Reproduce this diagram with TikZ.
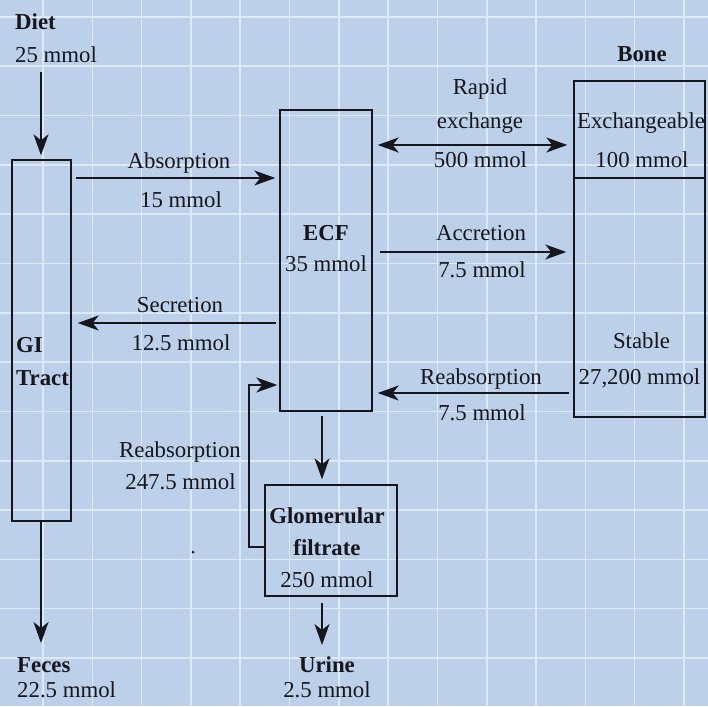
\documentclass[tikz,border=0pt]{standalone}
\usepackage{fontspec}
\setmainfont{Liberation Serif}
\usetikzlibrary{arrows.meta}
\definecolor{paper}{RGB}{188,208,233}
\definecolor{gridc}{RGB}{222,233,248}
\definecolor{ink}{RGB}{22,22,30}
\begin{document}
\begin{tikzpicture}[x=1pt,y=-1pt,
  font=\fontsize{22.8}{27}\selectfont,
  txt/.style={inner sep=0pt, anchor=base, text=ink},
  ltxt/.style={inner sep=0pt, anchor=base west, text=ink},
  box/.style={draw=ink, line width=1.4pt, inner sep=0pt},
  arr/.style={draw=ink, line width=1.4pt, -{Stealth[length=21pt 0,width=15pt 0,inset=6pt 0]}},
  darr/.style={draw=ink, line width=1.4pt, {Stealth[length=21pt 0,width=15pt 0,inset=6pt 0]}-{Stealth[length=21pt 0,width=15pt 0,inset=6pt 0]}}]
\fill[paper] (0,0) rectangle (708,706);
\useasboundingbox (0,0) rectangle (708,706);
\foreach \i in {0,...,13} {
  \draw[gridc, line width=1.6pt] ({43+49.3*\i},0) -- ({43+49.3*\i},706);
  \draw[gridc, line width=1.6pt] (0,{17+49.3*\i}) -- (708,{17+49.3*\i});
}
% boxes
\node[box, minimum width=59pt, minimum height=361pt] (gi) at (41.5,340.5) {};
\node[box, minimum width=92pt, minimum height=301pt] (ecf) at (326,260.5) {};
\node[box, minimum width=131pt, minimum height=336pt] (bone) at (639.5,249) {};
\node[box, minimum width=132pt, minimum height=111pt] (glom) at (331,540.5) {};
\draw[ink, line width=1.4pt] (bone.west |- 0,178) -- (bone.east |- 0,178);
% texts
\node[ltxt] (diet) at (15,30) {\textbf{Diet}};
\node[ltxt] (dietv) at (15,63) {25 mmol};
\node[ltxt] (gil) at (16,352) {\textbf{GI}};
\node[ltxt] (tract) at (16,385) {\textbf{Tract}};
\node[ltxt] (feces) at (17,672) {\textbf{Feces}};
\node[ltxt] (fecesv) at (17,697) {22.5 mmol};
\node[txt] (abs) at (179,168) {Absorption};
\node[txt] (absv) at (181,207) {15 mmol};
\node[txt] (sec) at (180,312) {Secretion};
\node[txt] (secv) at (181,350) {12.5 mmol};
\node[txt] (ecfl) at (326,240) {\textbf{ECF}};
\node[txt] (ecfv) at (326,271) {35 mmol};
\node[txt] (rap) at (480,95) {Rapid};
\node[txt] (rap2) at (480,128) {exchange};
\node[txt] (rapv) at (480.5,167) {500 mmol};
\node[txt] (acc) at (481,240) {Accretion};
\node[txt] (accv) at (482,277) {7.5 mmol};
\node[txt] (reb) at (481,384) {Reabsorption};
\node[txt] (rebv) at (482,420) {7.5 mmol};
\node[txt] (bonel) at (642,62) {\textbf{Bone}};
\node[txt] (exch) at (641,128) {Exchangeable};
\node[txt] (exchv) at (642,167) {100 mmol};
\node[txt] (stab) at (641.5,348) {Stable};
\node[txt] (stabv) at (639.5,384) {27,200 mmol};
\node[txt] (rek) at (180,457) {Reabsorption};
\node[txt] (rekv) at (180.5,489) {247.5 mmol};
\node[txt] (glo1) at (327,523) {\textbf{Glomerular}};
\node[txt] (glo2) at (327,555) {\textbf{filtrate}};
\node[txt] (glov) at (327,587) {250 mmol};
\node[txt] (urine) at (327,672) {\textbf{Urine}};
\node[txt] (urinev) at (327,697) {2.5 mmol};
\fill[ink] (193,552) circle (1.5pt);
% connectors
\coordinate (dtop) at (41,72);
\draw[arr, shorten >=4pt] (dtop) -- (gi.north -| dtop);
\draw[arr, shorten <=4pt, shorten >=4pt] (gi.east |- 0,178) -- (ecf.west |- 0,178);
\draw[arr, shorten <=3pt, shorten >=6pt] (ecf.west |- 0,323) -- (gi.east |- 0,323);
\draw[darr, shorten <=5pt, shorten >=6pt] (ecf.east |- 0,145) -- (bone.west |- 0,145);
\draw[arr, shorten <=7pt, shorten >=7pt] (ecf.east |- 0,252) -- (bone.west |- 0,252);
\draw[arr, shorten <=4pt, shorten >=5pt] (bone.west |- 0,393) -- (ecf.east |- 0,393);
\draw[arr, shorten <=4pt, shorten >=5pt] (ecf.south -| 322,0) -- (glom.north -| 322,0);
\draw[arr, shorten >=2pt] (glom.west |- 0,547) -- (249,547) -- (249,385) -- (ecf.west |- 0,385);
\draw[arr, shorten <=6pt] (glom.south -| 322,0) -- (322,645);
\coordinate (fend) at (41,643);
\draw[arr] (gi.south -| fend) -- (fend);
\end{tikzpicture}
\end{document}
